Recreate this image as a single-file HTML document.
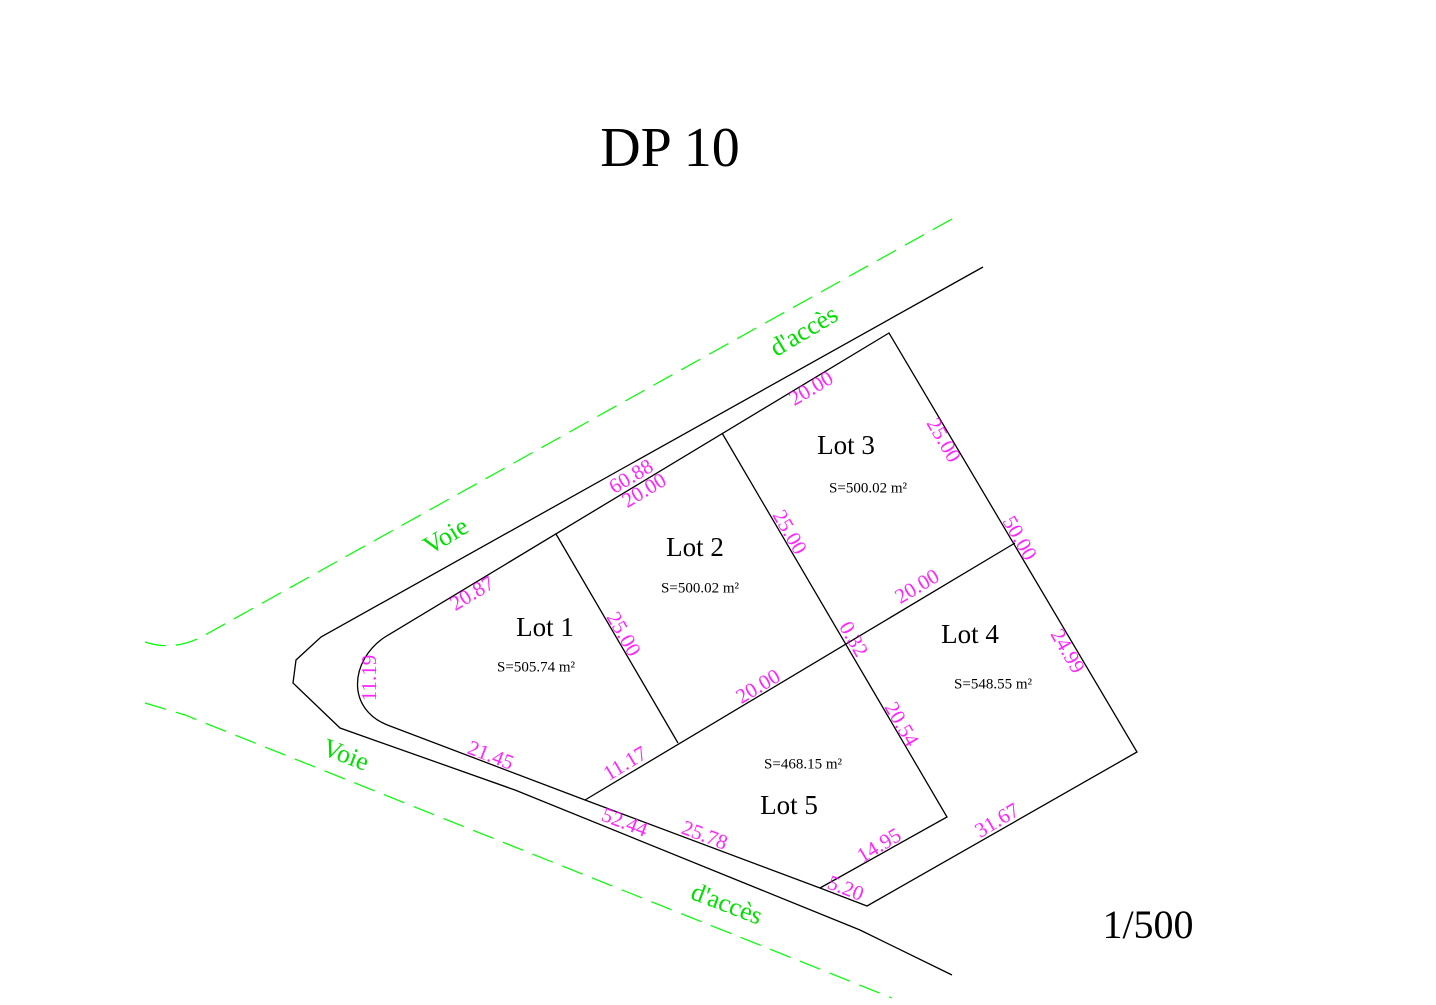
<!DOCTYPE html>
<html><head><meta charset="utf-8"><style>
html,body{margin:0;padding:0;background:#fff;}
svg{display:block;font-family:"Liberation Serif",serif;}
.m{fill:#ff00ff;font-size:21px;text-anchor:middle;dominant-baseline:middle;opacity:0.85;}
.g{fill:#00e000;font-size:26px;text-anchor:middle;dominant-baseline:middle;}
.l{fill:#000;font-size:27px;text-anchor:middle;dominant-baseline:middle;}
.s{fill:#000;font-size:15px;text-anchor:middle;dominant-baseline:middle;}
</style></head><body>
<svg width="1436" height="1005" viewBox="0 0 1436 1005">
<g fill="none" stroke="#00ff00" stroke-width="1.2" stroke-dasharray="22,10">
<path d="M952,219 L205,635 Q175,652 145,642"/>
<path d="M145,703 L185,715 L892,998"/>
</g>
<g fill="none" stroke="#000" stroke-width="1.3">
<path d="M983,267 L321,637 L296,660 L293,683 L340,728 L515,790 L860,930 L952,975"/>
<path d="M889,333 L385,637 C350,660 345,710 390,726 L585,800 L820,888 L867,906 L1137,752 Z"/>
<path d="M556,534 L678,743"/>
<path d="M722,433 L947,817 L820,888"/>
<path d="M1015,543 L585,800"/>
</g>
<text x="670" y="153" class="l" style="font-size:56px">DP 10</text>
<text x="1148" y="929" class="l" style="font-size:40px">1/500</text>
<text x="846" y="448" class="l">Lot 3</text>
<text x="695" y="550" class="l">Lot 2</text>
<text x="545" y="630" class="l">Lot 1</text>
<text x="970" y="637" class="l">Lot 4</text>
<text x="789" y="808" class="l">Lot 5</text>
<text x="868" y="489" class="s">S=500.02 m²</text>
<text x="700" y="589" class="s">S=500.02 m²</text>
<text x="536" y="668" class="s">S=505.74 m²</text>
<text x="993" y="685" class="s">S=548.55 m²</text>
<text x="803" y="765" class="s">S=468.15 m²</text>
<g>
<text class="g" transform="translate(447,538) rotate(-31)">Voie</text>
<text class="g" transform="translate(805,333) rotate(-31)">d'accès</text>
<text class="g" transform="translate(345,757) rotate(21)">Voie</text>
<text class="g" transform="translate(726,906) rotate(21)">d'accès</text>
</g>
<g>
<text class="m" transform="translate(812,390) rotate(-31)">20.00</text>
<text class="m" transform="translate(632,478) rotate(-31)">60.88</text>
<text class="m" transform="translate(645,492) rotate(-31)">20.00</text>
<text class="m" transform="translate(473,595) rotate(-31)">20.87</text>
<text class="m" transform="translate(371,678) rotate(-90)">11.19</text>
<text class="m" transform="translate(490,757) rotate(21)">21.45</text>
<text class="m" transform="translate(626,765) rotate(-31)">11.17</text>
<text class="m" transform="translate(622,635) rotate(60)">25.00</text>
<text class="m" transform="translate(788,533) rotate(60)">25.00</text>
<text class="m" transform="translate(759,688) rotate(-31)">20.00</text>
<text class="m" transform="translate(942,441) rotate(60)">25.00</text>
<text class="m" transform="translate(1018,539) rotate(60)">50.00</text>
<text class="m" transform="translate(918,588) rotate(-31)">20.00</text>
<text class="m" transform="translate(852,640) rotate(60)">0.32</text>
<text class="m" transform="translate(1066,652) rotate(60)">24.99</text>
<text class="m" transform="translate(900,725) rotate(60)">20.54</text>
<text class="m" transform="translate(624,824) rotate(21)">52.44</text>
<text class="m" transform="translate(704,837) rotate(21)">25.78</text>
<text class="m" transform="translate(880,847) rotate(-31)">14.95</text>
<text class="m" transform="translate(845,890) rotate(21)">5.20</text>
<text class="m" transform="translate(998,822) rotate(-31)">31.67</text>
</g>
</svg>
</body></html>
